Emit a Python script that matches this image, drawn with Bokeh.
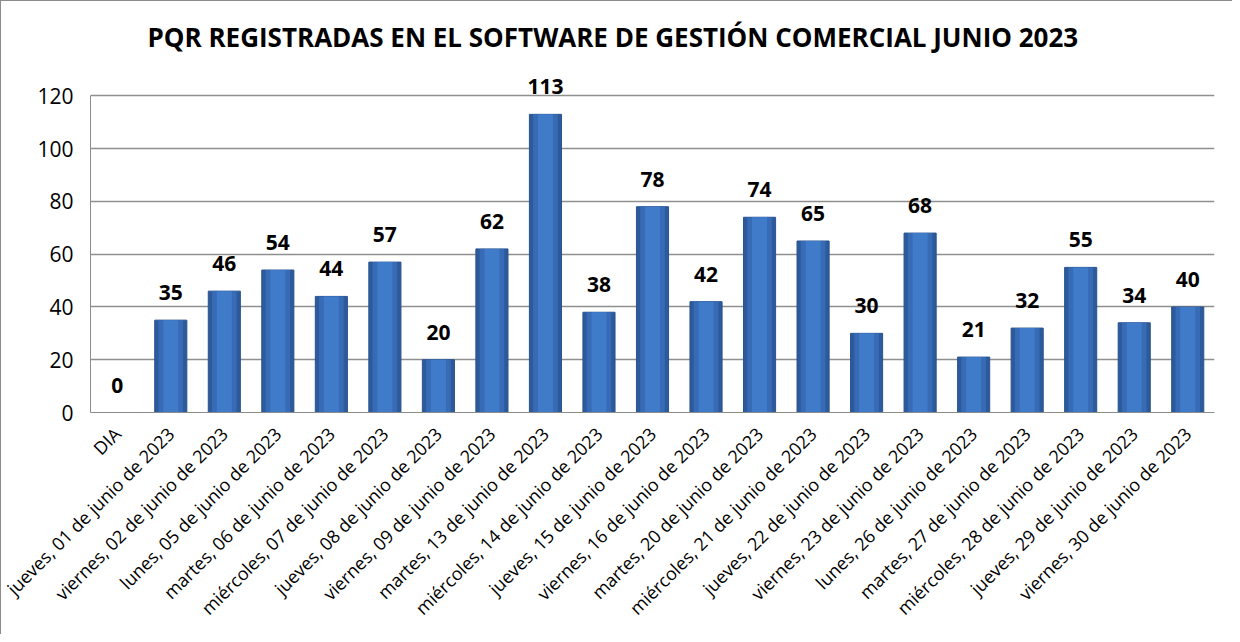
from math import pi
from bokeh.plotting import figure
from bokeh.models import ColumnDataSource, FactorRange, Range1d, LabelSet, Title, SingleIntervalTicker
from bokeh.core.properties import value
from bokeh.embed import file_html
from bokeh.resources import INLINE

categories = [
    "DIA",
    "jueves, 01 de junio de 2023",
    "viernes, 02 de junio de 2023",
    "lunes, 05 de junio de 2023",
    "martes, 06 de junio de 2023",
    "miércoles, 07 de junio de 2023",
    "jueves, 08 de junio de 2023",
    "viernes, 09 de junio de 2023",
    "martes, 13 de junio de 2023",
    "miércoles, 14 de junio de 2023",
    "jueves, 15 de junio de 2023",
    "viernes, 16 de junio de 2023",
    "martes, 20 de junio de 2023",
    "miércoles, 21 de junio de 2023",
    "jueves, 22 de junio de 2023",
    "viernes, 23 de junio de 2023",
    "lunes, 26 de junio de 2023",
    "martes, 27 de junio de 2023",
    "miércoles, 28 de junio de 2023",
    "jueves, 29 de junio de 2023",
    "viernes, 30 de junio de 2023",
]
values = [0, 35, 46, 54, 44, 57, 20, 62, 113, 38, 78, 42, 74, 65, 30, 68, 21, 32, 55, 34, 40]

title_text = "PQR REGISTRADAS EN EL SOFTWARE DE GESTIÓN COMERCIAL JUNIO 2023"

src = ColumnDataSource(dict(cat=categories, val=values,
                            lbl=[str(v) for v in values]))

FONT = "Open Sans"

p = figure(width=1232, height=634, x_range=FactorRange(*categories, range_padding=0),
           y_range=Range1d(0, 130), output_backend="svg", toolbar_location=None,
           min_border_left=89, min_border_right=19, min_border_top=68, min_border_bottom=223,
           styles={"border-left": "1px solid #8c8c8c", "border-top": "1px solid #8c8c8c"})

p.add_layout(Title(text=title_text, text_font=FONT, text_font_size="26px",
                   text_font_style="bold", text_color="#000000", align="left",
                   offset=57, standoff=29), "above")

# bars: layered to give a shaded look
p.vbar(x="cat", top="val", width=0.6, source=src, fill_color="#2C5A9A", line_color="#2A5390", line_width=1)
p.vbar(x="cat", top="val", width=0.46, source=src, fill_color="#376BB5", line_color=None)
p.vbar(x="cat", top="val", width=0.28, source=src, fill_color="#407BCA", line_color=None)

labels = LabelSet(x="cat", y="val", text="lbl", source=src, text_align="center",
                  text_baseline="alphabetic", y_offset=20, text_font=value(FONT),
                  text_font_size=value("21px"), text_font_style="bold", text_color="#000000")
p.add_layout(labels)

p.outline_line_color = None
p.xgrid.grid_line_color = None
p.ygrid.grid_line_color = "#8f8f8f"
p.ygrid.grid_line_width = 1.5
p.yaxis.ticker = SingleIntervalTicker(interval=20)
p.yaxis.bounds = (0, 120)

p.yaxis.axis_line_color = "#8c8c8c"
p.yaxis.major_tick_line_color = None
p.yaxis.minor_tick_line_color = None
p.yaxis.major_tick_out = 0
p.yaxis.major_label_text_font = FONT
p.yaxis.major_label_text_font_size = "21px"
p.yaxis.major_label_text_color = "#000000"
p.yaxis.major_label_standoff = 13

p.xaxis.axis_line_color = "#8c8c8c"
p.xaxis.major_tick_line_color = None
p.xaxis.minor_tick_line_color = None
p.xaxis.major_tick_out = 0
p.xaxis.major_label_orientation = pi / 4
p.xaxis.major_label_text_font = FONT
p.xaxis.major_label_text_font_size = "18px"
p.xaxis.major_label_text_color = "#000000"
p.xaxis.major_label_standoff = 18

open("out.html", "w").write(file_html(p, INLINE))
